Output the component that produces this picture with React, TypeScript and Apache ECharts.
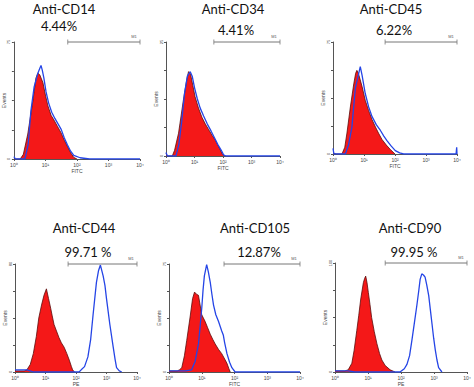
import React, { useEffect, useRef } from "react";
import * as echarts from "echarts";

// x values are log10 of fluorescence intensity (decades), y values are event counts
const xTickLabels = ["10⁰", "10¹", "10²", "10³", "10⁴"];

const cd14Iso = [[0,0],[0.2,0],[0.3,3],[0.44,16],[0.6,37],[0.7,52],[0.76,55],[0.82,54],[0.92,49],[1.0,41],[1.08,34],[1.18,28],[1.27,25],[1.38,21],[1.49,17],[1.6,12],[1.71,7.5],[1.8,4],[1.9,1],[2.0,0]];
const cd14Ab = [[0,1.5],[0.05,0],[0.35,0],[0.45,9],[0.54,31],[0.64,46],[0.76,55],[0.82,58],[0.86,60],[0.9,57],[0.95,52],[1.02,43],[1.1,36],[1.2,30],[1.3,26],[1.4,22.5],[1.5,19],[1.6,13.5],[1.7,9],[1.8,5],[1.9,2.3],[2.1,0.8],[2.4,0],[4,0]];

const cd34Iso = [[0,0.5],[0.05,0],[0.22,0],[0.3,1.25],[0.44,5],[0.61,12.25],[0.73,16.75],[0.79,18.5],[0.86,18],[0.94,15.5],[1.02,13],[1.14,10.5],[1.26,8.5],[1.38,7],[1.5,5.75],[1.62,4.5],[1.73,3.5],[1.85,2],[1.97,0.5],[2.05,0]];
const cd34Ab = [[0,0.75],[0.05,0],[0.35,0],[0.45,2.5],[0.55,7.5],[0.65,13.75],[0.75,17.5],[0.85,18.5],[0.92,17.5],[1.0,15],[1.1,12.5],[1.2,10.5],[1.32,8.75],[1.45,7],[1.58,5.5],[1.7,4],[1.82,2.5],[1.94,1.25],[2.02,0.25],[2.1,0],[4,0]];

const cd45Iso = [[0,0.75],[0.1,0],[0.29,0],[0.38,4.5],[0.45,14],[0.56,31.5],[0.67,47],[0.73,54],[0.77,56],[0.82,54],[0.94,45],[1.04,36],[1.15,29],[1.26,23],[1.37,18],[1.48,13.5],[1.58,9.75],[1.72,6],[1.85,3],[2.0,0]];
const cd45Ab = [[0,3.75],[0.03,0],[0.4,0],[0.5,6],[0.61,18],[0.72,44],[0.83,54],[0.88,58.5],[0.94,52.5],[1.04,40.5],[1.15,31.5],[1.26,25],[1.4,19.5],[1.53,15.75],[1.64,12],[1.74,9],[1.88,5.25],[2.01,2.25],[2.15,0.75],[2.28,0],[3.97,0],[3.99,4.5],[4,0]];

const cd44Iso = [[0,0.8],[0.3,0.8],[0.39,1.6],[0.5,5.6],[0.6,13.6],[0.7,26.4],[0.78,40],[0.87,49.6],[0.95,56.8],[1.03,61.6],[1.1,54.4],[1.17,47.2],[1.22,41.6],[1.28,35.2],[1.36,30.4],[1.44,25.6],[1.52,21.6],[1.61,18.4],[1.7,13.6],[1.78,8.8],[1.85,4],[1.89,1.6],[1.95,0]];
const cd44Ab = [[0,1.6],[0.4,1.6],[0.6,0],[2.1,0],[2.17,1.6],[2.28,4],[2.39,11.2],[2.48,24],[2.56,42.4],[2.67,66.4],[2.74,75.2],[2.8,79.2],[2.89,71.2],[2.95,64],[3.0,54.4],[3.11,35.2],[3.22,18.4],[3.28,9.6],[3.33,3.2],[3.42,0.8],[3.5,0]];

const cd105Iso = [[0,0.75],[0.25,0.75],[0.32,1.5],[0.39,3],[0.47,11.25],[0.54,21.75],[0.64,37.5],[0.72,51],[0.78,55.5],[0.84,54],[0.9,53.25],[0.95,46.5],[1.0,39.75],[1.05,37.5],[1.1,35.25],[1.18,30.75],[1.26,26.25],[1.34,22.5],[1.41,19.5],[1.51,15.75],[1.61,12.75],[1.7,9],[1.77,6],[1.83,2.25],[1.87,0]];
const cd105Ab = [[0,0.75],[0.5,0.75],[0.69,1.5],[0.8,7.5],[0.9,19.5],[0.95,31.5],[1.0,44.25],[1.04,57],[1.08,66.75],[1.15,74.5],[1.2,69.75],[1.26,62.25],[1.31,54],[1.36,46.5],[1.43,39.75],[1.51,35.25],[1.61,28.5],[1.66,25.5],[1.7,20.25],[1.77,12.75],[1.85,6.75],[1.92,3],[2.02,0],[4,0]];

const cd90Iso = [[0,1],[0.3,1],[0.4,2],[0.51,8],[0.58,20],[0.66,38],[0.72,52],[0.78,67],[0.86,82],[0.9,86],[0.93,88],[0.97,82],[1.01,73],[1.06,62],[1.11,50],[1.19,37],[1.27,26],[1.35,17],[1.42,11],[1.52,6],[1.67,2],[1.82,0]];
const cd90Ab = [[0,1],[0.4,1],[0.6,0],[1.97,0],[2.1,3],[2.18,7],[2.26,15],[2.33,29],[2.4,44],[2.48,61],[2.54,75],[2.58,85],[2.63,90],[2.68,89],[2.73,87],[2.78,80],[2.84,70],[2.89,57],[2.94,44],[2.99,31],[3.04,20],[3.09,11],[3.14,4],[3.24,0]];

const titles = ["Anti-CD14", "Anti-CD34", "Anti-CD45", "Anti-CD44", "Anti-CD105", "Anti-CD90"];
const percents = ["4.44%", "4.41%", "6.22%", "99.71 %", "12.87%", "99.95 %"];
const channels = ["FITC", "FITC", "FITC", "PE", "FITC", "PE"];
const yMaxes = [75, 25, 75, 80, 75, 100];
const gateStarts = [1.71, 1.68, 1.68, 1.74, 1.68, 1.52];
const isotypeSeries = [cd14Iso, cd34Iso, cd45Iso, cd44Iso, cd105Iso, cd90Iso];
const antibodySeries = [cd14Ab, cd34Ab, cd45Ab, cd44Ab, cd105Ab, cd90Ab];

// layout (pixels)
const layout = [
  { left: 12, top: 42, width: 128, height: 117, tx: 64, ty: 9, px: 59, py: 26 },
  { left: 166, top: 42, width: 114, height: 114, tx: 233, ty: 9, px: 236, py: 30 },
  { left: 333, top: 42, width: 124, height: 112, tx: 391, ty: 9, px: 394, py: 30 },
  { left: 15, top: 264, width: 122, height: 112, tx: 84, ty: 228, px: 88, py: 252 },
  { left: 169, top: 264, width: 131, height: 112, tx: 255, ty: 228, px: 259, py: 252 },
  { left: 335, top: 263, width: 132, height: 113, tx: 410, ty: 228, px: 414, py: 252 },
];

const axisColor = "#555";
const smallFont = "Liberation Sans";

export default function App() {
  const ref = useRef<HTMLDivElement>(null);
  useEffect(() => {
    if (!ref.current) return;
    const chart = echarts.init(ref.current, undefined, { renderer: "svg" });
    const grid = layout.map((l) => ({ left: l.left, top: l.top, width: l.width, height: l.height }));
    const xAxis = titles.map((_, i) => ({
      gridIndex: i,
      type: "value",
      min: 0,
      max: 4,
      interval: 1,
      name: channels[i],
      nameLocation: "middle",
      nameGap: 9,
      nameTextStyle: { fontSize: 5, color: "#444", fontFamily: smallFont },
      axisLine: { lineStyle: { color: axisColor, width: 1 } },
      axisTick: { length: 2, lineStyle: { color: axisColor } },
      axisLabel: {
        fontSize: 5,
        color: "#444",
        margin: 3,
        fontFamily: smallFont,
        formatter: (v: number) => xTickLabels[Math.round(v)] ?? "",
      },
      splitLine: { show: false },
    }));
    const yAxis = titles.map((_, i) => ({
      gridIndex: i,
      type: "value",
      min: 0,
      max: yMaxes[i],
      interval: yMaxes[i] / 4,
      name: "Events",
      nameLocation: "middle",
      nameRotate: 90,
      nameGap: 6,
      nameTextStyle: { fontSize: 5, color: "#444", fontFamily: smallFont },
      axisLine: { show: true, lineStyle: { color: axisColor, width: 1 } },
      axisTick: { show: true, length: 2, lineStyle: { color: axisColor } },
      axisLabel: {
        fontSize: 4,
        color: "#444",
        margin: 3,
        rotate: 90,
        fontFamily: smallFont,
        formatter: (v: number) => (v === 0 || v === yMaxes[i] ? String(v) : ""),
      },
      splitLine: { show: false },
    }));
    const series: any[] = [];
    titles.forEach((_, i) => {
      series.push({
        type: "line",
        xAxisIndex: i,
        yAxisIndex: i,
        data: isotypeSeries[i],
        symbol: "none",
        lineStyle: { color: "#5a0d0d", width: 0.8 },
        areaStyle: { color: "#f41818", opacity: 1 },
        z: 2,
      });
      series.push({
        type: "line",
        xAxisIndex: i,
        yAxisIndex: i,
        data: antibodySeries[i],
        symbol: "none",
        lineStyle: { color: "#2545e6", width: 1.3 },
        z: 3,
      });
      series.push({
        type: "line",
        xAxisIndex: i,
        yAxisIndex: i,
        clip: false,
        symbol: "rect",
        symbolSize: [0.8, 5],
        showSymbol: true,
        itemStyle: { color: "#777" },
        lineStyle: { color: "#777", width: 1 },
        data: [
          [gateStarts[i], yMaxes[i]],
          {
            value: [4, yMaxes[i]],
            label: {
              show: true,
              formatter: "M1",
              position: "top",
              distance: 1,
              offset: [-6, 0],
              fontSize: 4,
              color: "#555",
              fontFamily: smallFont,
            },
          },
        ],
        z: 4,
      });
    });
    const graphic: any[] = [];
    layout.forEach((l, i) => {
      graphic.push({
        type: "text",
        x: l.tx,
        y: l.ty,
        style: { text: titles[i], fontSize: 13, fontFamily: "Lato", fill: "#111", align: "center", verticalAlign: "middle" },
      });
      graphic.push({
        type: "text",
        x: l.px,
        y: l.py,
        style: { text: percents[i], fontSize: 13, fontFamily: "Lato", fill: "#111", align: "center", verticalAlign: "middle" },
      });
    });
    chart.setOption({
      animation: false,
      backgroundColor: "#fff",
      grid,
      xAxis,
      yAxis,
      series,
      graphic,
    });
    return () => chart.dispose();
  }, []);
  return (
    <div
      ref={ref}
      style={{ position: "fixed", left: 0, top: 0, width: 474, height: 387, background: "#fff" }}
    />
  );
}
